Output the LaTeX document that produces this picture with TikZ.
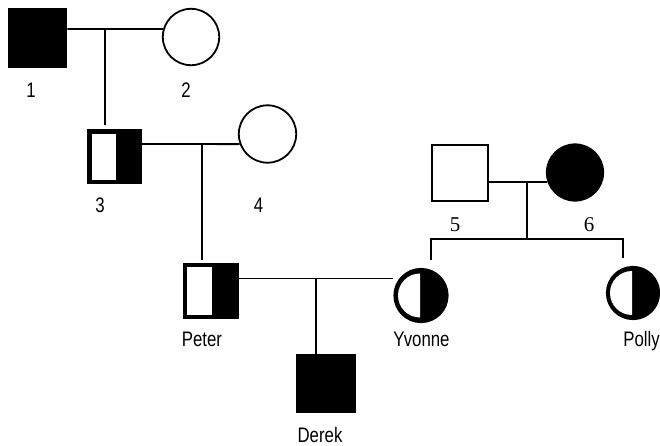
\documentclass[tikz,border=0pt]{standalone}
\usepackage{fontspec}
\setmainfont[FakeStretch=0.8]{Liberation Sans}
\newfontfamily\serifnum{Liberation Serif}
\usetikzlibrary{calc}
\begin{document}
\begin{tikzpicture}[x=1pt,y=-1pt,line width=1.8pt,
  lab/.style={anchor=base,font=\fontsize{21}{21}\selectfont,inner sep=0pt},
  slab/.style={anchor=base,font=\serifnum\fontsize{21}{21}\selectfont,inner sep=0pt},
  sq/.style={draw,rectangle,minimum size=#1,inner sep=0pt},
  ci/.style={draw,circle,minimum size=#1,inner sep=0pt},
  affected/.style={fill=black},
  carriersq/.style={fill=black,path picture={\fill[white]
      ([shift={(3.2pt,-3.2pt)}]path picture bounding box.north west) rectangle
      ([shift={(1pt,3.2pt)}]path picture bounding box.south);}},
  carrierci/.style={fill=black,path picture={\fill[white]
      ([xshift=-1pt]path picture bounding box.center) ++(0pt,22pt)
      arc[start angle=90,end angle=270,radius=22pt] -- cycle;}}
]
\useasboundingbox (0,0) rectangle (660,445);
% individuals
\node[sq=58pt,affected] (n1) at (37.5,38) {};
\node[ci=56.4pt] (n2) at (191,37) {};
\node[sq=52.4pt,carriersq] (n3) at (114.5,156.5) {};
\node[ci=57.4pt] (n4) at (267.5,134) {};
\node[sq=56.4pt] (n5) at (460,173) {};
\node[ci=56.4pt,affected] (n6) at (575,172.5) {};
\node[sq=54.4pt,carriersq] (peter) at (211,291) {};
\node[ci=53.4pt,carrierci] (yvonne) at (421,295.5) {};
\node[ci=52.4pt,carrierci] (polly) at (633,293) {};
\node[sq=58pt,affected] (derek) at (326,383.5) {};
% labels
\node[lab] (l1) at (31,97) {1};
\node[lab] (l2) at (186,97) {2};
\node[lab] (l3) at (100,212) {3};
\node[lab] (l4) at (258.5,212) {4};
\node[slab] (l5) at (455,231.5) {5};
\node[slab] (l6) at (589,231.5) {6};
\node[lab] (lpeter) at (202,346) {Peter};
\node[lab] (lyvonne) at (421.5,346) {Yvonne};
\node[lab] (lpolly) at (641.5,346) {Polly};
\node[lab] (lderek) at (320,442) {Derek};
% connectors
\coordinate (m12) at (105,29);
\coordinate (t3) at (105,125);
\draw (n1.east |- m12) -- (n2.164);
\draw (m12) -- (t3);
\coordinate (m34) at (202,144);
\coordinate (tp) at (202,260);
\draw (n3.east |- m34) -- (n4.200);
\draw (m34) -- (tp);
\coordinate (m56) at (527,182);
\coordinate (s56) at (527,239);
\draw (n5.east |- m56) -- (n6.199);
\draw (m56) -- (s56);
\coordinate (ty) at (431,260);
\coordinate (tpo) at (623,258);
\draw (ty) -- (ty |- s56) -- (tpo |- s56) -- (tpo);
\coordinate (mpy) at (316,278.5);
\coordinate (ye) at (393,278.5);
\draw (peter.east |- mpy) -- (ye);
\draw (mpy) -- (mpy |- derek.north);
\end{tikzpicture}
\end{document}
